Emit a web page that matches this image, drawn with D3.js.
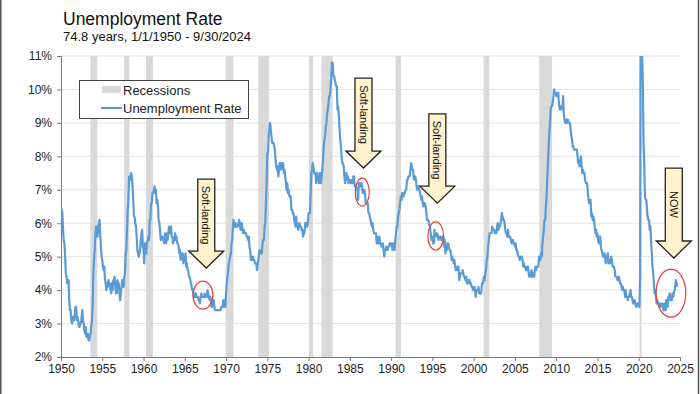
<!DOCTYPE html>
<html>
<head>
<meta charset="utf-8">
<script src="https://cdnjs.cloudflare.com/ajax/libs/d3/7.8.5/d3.min.js"></script>
<style>
  body { margin: 0; background: #fff; }
  svg { display: block; font-family: "Liberation Sans", Arial, sans-serif; }
</style>
</head>
<body>
<script>
// monthly US unemployment rate (%), one row per year starting 1950
var firstYear = 1950;
var monthlyRates = [
  [6.5,6.4,6.3,5.8,5.5,5.4,5.0,4.5,4.4,4.2,4.2,4.3],
  [3.7,3.4,3.4,3.1,3.0,3.2,3.1,3.1,3.3,3.5,3.5,3.1],
  [3.2,3.1,2.9,2.9,3.0,3.0,3.2,3.4,3.1,3.0,2.8,2.7],
  [2.9,2.6,2.6,2.7,2.5,2.5,2.6,2.7,2.9,3.1,3.5,4.5],
  [4.9,5.2,5.7,5.9,5.9,5.6,5.8,6.0,6.1,5.7,5.3,5.0],
  [4.9,4.7,4.6,4.7,4.3,4.2,4.0,4.2,4.1,4.3,4.2,4.2],
  [4.0,3.9,4.2,4.0,4.3,4.3,4.4,4.1,3.9,3.9,4.3,4.2],
  [4.2,3.9,3.7,3.9,4.1,4.3,4.2,4.1,4.4,4.5,5.1,5.2],
  [5.8,6.4,6.7,7.4,7.4,7.3,7.5,7.4,7.1,6.7,6.2,6.2],
  [6.0,5.9,5.6,5.2,5.1,5.0,5.1,5.2,5.5,5.7,5.8,5.3],
  [5.2,4.8,5.4,5.2,5.1,5.4,5.5,5.6,5.5,6.1,6.1,6.6],
  [6.6,6.9,6.9,7.0,7.1,6.9,7.0,6.6,6.7,6.5,6.1,6.0],
  [5.8,5.5,5.6,5.6,5.5,5.5,5.4,5.7,5.6,5.4,5.7,5.5],
  [5.7,5.9,5.7,5.7,5.9,5.6,5.6,5.4,5.5,5.5,5.7,5.5],
  [5.6,5.4,5.4,5.3,5.1,5.2,4.9,5.0,5.1,5.1,4.8,5.0],
  [4.9,5.1,4.7,4.8,4.6,4.6,4.4,4.4,4.3,4.2,4.1,4.0],
  [4.0,3.8,3.8,3.8,3.9,3.8,3.8,3.8,3.7,3.7,3.6,3.8],
  [3.9,3.8,3.8,3.8,3.8,3.9,3.8,3.8,3.8,4.0,3.9,3.8],
  [3.7,3.8,3.7,3.5,3.5,3.7,3.7,3.5,3.4,3.4,3.4,3.4],
  [3.4,3.4,3.4,3.4,3.4,3.5,3.5,3.5,3.7,3.7,3.5,3.5],
  [3.9,4.2,4.4,4.6,4.8,4.9,5.0,5.1,5.4,5.5,5.9,6.1],
  [5.9,5.9,6.0,5.9,5.9,5.9,6.0,6.1,6.0,5.8,6.0,6.0],
  [5.8,5.7,5.8,5.7,5.7,5.7,5.6,5.6,5.5,5.6,5.3,5.2],
  [4.9,5.0,4.9,5.0,4.9,4.9,4.8,4.8,4.8,4.6,4.8,4.9],
  [5.1,5.2,5.1,5.1,5.1,5.4,5.5,5.5,5.9,6.0,6.6,7.2],
  [8.1,8.1,8.6,8.8,9.0,8.8,8.6,8.4,8.4,8.4,8.3,8.2],
  [7.9,7.7,7.6,7.7,7.4,7.6,7.8,7.8,7.6,7.7,7.8,7.8],
  [7.5,7.6,7.4,7.2,7.0,7.2,6.9,7.0,6.8,6.8,6.8,6.4],
  [6.4,6.3,6.3,6.1,6.0,5.9,6.2,5.9,6.0,5.8,5.9,6.0],
  [5.9,5.9,5.8,5.8,5.6,5.7,5.7,6.0,5.9,6.0,5.9,6.0],
  [6.3,6.3,6.3,6.9,7.5,7.6,7.8,7.7,7.5,7.5,7.5,7.2],
  [7.5,7.4,7.4,7.2,7.5,7.5,7.2,7.4,7.6,7.9,8.3,8.5],
  [8.6,8.9,9.0,9.3,9.4,9.6,9.8,9.8,10.1,10.4,10.8,10.8],
  [10.4,10.4,10.3,10.2,10.1,10.1,9.4,9.5,9.2,8.8,8.5,8.3],
  [8.0,7.8,7.8,7.7,7.4,7.2,7.5,7.5,7.3,7.4,7.2,7.3],
  [7.3,7.2,7.2,7.3,7.2,7.4,7.4,7.1,7.1,7.1,7.0,7.0],
  [6.7,7.2,7.2,7.1,7.2,7.2,7.0,6.9,7.0,7.0,6.9,6.6],
  [6.6,6.6,6.6,6.3,6.3,6.2,6.1,6.0,5.9,6.0,5.8,5.7],
  [5.7,5.7,5.7,5.4,5.6,5.4,5.4,5.6,5.4,5.4,5.3,5.3],
  [5.4,5.2,5.0,5.2,5.2,5.3,5.2,5.2,5.3,5.3,5.4,5.4],
  [5.4,5.3,5.2,5.4,5.4,5.2,5.5,5.7,5.9,5.9,6.2,6.3],
  [6.4,6.6,6.8,6.7,6.9,6.9,6.8,6.9,6.9,7.0,7.0,7.3],
  [7.3,7.4,7.4,7.4,7.6,7.8,7.7,7.6,7.6,7.3,7.4,7.4],
  [7.3,7.1,7.0,7.1,7.1,7.0,6.9,6.8,6.7,6.8,6.6,6.5],
  [6.6,6.6,6.5,6.4,6.1,6.1,6.1,6.0,5.9,5.8,5.6,5.5],
  [5.6,5.4,5.4,5.8,5.6,5.6,5.7,5.7,5.6,5.5,5.6,5.6],
  [5.6,5.5,5.5,5.6,5.6,5.3,5.5,5.1,5.2,5.2,5.4,5.4],
  [5.3,5.2,5.2,5.1,4.9,5.0,4.9,4.8,4.9,4.7,4.6,4.7],
  [4.6,4.6,4.7,4.3,4.4,4.5,4.5,4.5,4.6,4.5,4.4,4.4],
  [4.3,4.4,4.2,4.3,4.2,4.3,4.3,4.2,4.2,4.1,4.1,4.0],
  [4.0,4.1,4.0,3.8,4.0,4.0,4.0,4.1,3.9,3.9,3.9,3.9],
  [4.2,4.2,4.3,4.4,4.3,4.5,4.6,4.9,5.0,5.3,5.5,5.7],
  [5.7,5.7,5.7,5.9,5.8,5.8,5.8,5.7,5.7,5.7,5.9,6.0],
  [5.8,5.9,5.9,6.0,6.1,6.3,6.2,6.1,6.1,6.0,5.8,5.7],
  [5.7,5.6,5.8,5.6,5.6,5.6,5.5,5.4,5.4,5.5,5.4,5.4],
  [5.3,5.4,5.2,5.2,5.1,5.0,5.0,4.9,5.0,5.0,5.0,4.9],
  [4.7,4.8,4.7,4.7,4.6,4.6,4.7,4.7,4.5,4.4,4.5,4.4],
  [4.6,4.5,4.4,4.5,4.4,4.6,4.7,4.6,4.7,4.7,4.7,5.0],
  [5.0,4.9,5.1,5.0,5.4,5.6,5.8,6.1,6.1,6.5,6.8,7.3],
  [7.8,8.3,8.7,9.0,9.4,9.5,9.5,9.6,9.8,10.0,9.9,9.9],
  [9.8,9.8,9.9,9.9,9.6,9.4,9.4,9.5,9.5,9.4,9.8,9.3],
  [9.1,9.0,9.0,9.1,9.0,9.1,9.0,9.0,9.0,8.8,8.6,8.5],
  [8.3,8.3,8.2,8.2,8.2,8.2,8.2,8.0,7.8,7.8,7.7,7.9],
  [8.0,7.7,7.5,7.6,7.5,7.5,7.3,7.2,7.2,7.2,6.9,6.7],
  [6.6,6.7,6.7,6.2,6.3,6.1,6.2,6.1,5.9,5.7,5.8,5.6],
  [5.7,5.5,5.4,5.4,5.6,5.3,5.2,5.1,5.0,5.0,5.1,5.0],
  [4.8,4.9,5.0,5.1,4.8,4.9,4.8,4.9,5.0,4.9,4.7,4.7],
  [4.7,4.6,4.4,4.4,4.4,4.3,4.3,4.4,4.3,4.2,4.2,4.1],
  [4.0,4.1,4.0,4.0,3.8,4.0,3.8,3.8,3.7,3.8,3.8,3.9],
  [4.0,3.8,3.8,3.7,3.6,3.6,3.7,3.6,3.5,3.6,3.6,3.6],
  [3.5,3.5,4.4,14.8,13.2,11.0,10.2,8.4,7.8,6.8,6.7,6.7],
  [6.4,6.2,6.1,6.1,5.8,5.9,5.4,5.1,4.7,4.5,4.2,3.9],
  [4.0,3.8,3.6,3.7,3.6,3.6,3.5,3.6,3.5,3.6,3.6,3.5],
  [3.4,3.6,3.5,3.4,3.7,3.6,3.5,3.8,3.8,3.9,3.7,3.7],
  [3.7,3.9,3.8,3.9,4.0,4.1,4.3,4.2,4.1]
];

// NBER recessions, decimal years
var recessionStart = [1953.55, 1957.65, 1960.3, 1969.95, 1973.9, 1980.05, 1981.55, 1990.55, 2001.2, 2007.95, 2020.1];
var recessionEnd   = [1954.4, 1958.3, 1961.15, 1970.9, 1975.2, 1980.55, 1982.9, 1991.2, 2001.9, 2009.5, 2020.35];

var yTicks = [2, 3, 4, 5, 6, 7, 8, 9, 10, 11];
var xTicks = d3.range(1950, 2026, 5);

// call-outs: arrow label, where the arrow points (year), its top and tip (%)
var arrowLabels = ["Soft-landing", "Soft-landing", "Soft-landing", "NOW"];
var arrowYear   = [1967.6, 1986.65, 1995.6, 2024.25];
var arrowTop    = [7.32, 10.34, 9.27, 7.65];
var arrowTip    = [4.66, 7.65, 6.6, 4.96];
// red circles: centre year, centre %, half-width in years, half-height in %
var ringYear = [1967.2, 1986.5, 1995.4, 2023.9];
var ringRate = [3.85, 6.93, 5.62, 3.91];
var ringDx   = [1.2, 0.85, 0.95, 1.8];
var ringDy   = [0.42, 0.42, 0.42, 0.72];

window.onload = function() {
    var w = 700, h = 394;
    var margin = {left: 61, right: 20, top: 56, bottom: 37};

    var svg = d3.select("body").append("svg")
        .attr("width", w)
        .attr("height", h);

    //flatten the rows into one monthly series
    var series = [];
    monthlyRates.forEach(function(row, i) {
        row.forEach(function(v, m) {
            series.push({t: firstYear + i + m / 12, v: v});
        });
    });

    var x = d3.scaleLinear().domain([1950, 2025]).range([margin.left, w - margin.right]);
    var y = d3.scaleLinear().domain([2, 11]).range([h - margin.bottom, margin.top]);

    //frame edges of the slide
    svg.append("line").attr("x1", 0.75).attr("x2", 0.75).attr("y1", 0).attr("y2", h)
        .style("stroke", "#555").style("stroke-width", 1.5);
    svg.append("line").attr("x1", 698.5).attr("x2", 698.5).attr("y1", 0).attr("y2", h)
        .style("stroke", "#555").style("stroke-width", 1.5);

    //titles
    svg.append("text").attr("x", 63).attr("y", 25)
        .style("font-size", "17.5px").style("fill", "#111")
        .text("Unemployment Rate");
    svg.append("text").attr("x", 63).attr("y", 41)
        .style("font-size", "13px").style("fill", "#111")
        .text("74.8 years, 1/1/1950 - 9/30/2024");

    //gridlines
    svg.append("g").selectAll("line")
        .data(yTicks.slice(1))
        .enter().append("line")
        .attr("x1", margin.left).attr("x2", w - margin.right)
        .attr("y1", function(d) { return y(d); })
        .attr("y2", function(d) { return y(d); })
        .style("stroke", "#e3e3e3").style("stroke-width", 1);

    //recession bars
    svg.append("g").selectAll("rect")
        .data(recessionStart)
        .enter().append("rect")
        .attr("x", function(d) { return x(d); })
        .attr("width", function(d, i) { return x(recessionEnd[i]) - x(d); })
        .attr("y", y(11))
        .attr("height", y(2) - y(11))
        .style("fill", "#d9d9d9");

    //axes
    var yAxis = svg.append("g")
        .attr("transform", "translate(" + margin.left + ",0)")
        .call(d3.axisLeft(y).tickValues(yTicks).tickSize(4).tickPadding(5)
            .tickFormat(function(d) { return d + "%"; }));
    var xAxis = svg.append("g")
        .attr("transform", "translate(0," + y(2) + ")")
        .call(d3.axisBottom(x).tickValues(xTicks).tickSize(4).tickPadding(3)
            .tickFormat(d3.format("d")));
    [xAxis, yAxis].forEach(function(a) {
        a.select(".domain").style("stroke", "#777");
        a.selectAll(".tick line").style("stroke", "#777");
        a.selectAll("text").style("font-size", "12px").style("fill", "#222")
            .style("font-family", "Liberation Sans, Arial, sans-serif");
    });

    //the rate line, clipped to the plot
    svg.append("clipPath").attr("id", "plot")
        .append("rect")
        .attr("x", margin.left).attr("y", y(11))
        .attr("width", x(2025) - margin.left).attr("height", y(2) - y(11));

    var line = d3.line()
        .x(function(d) { return x(d.t); })
        .y(function(d) { return y(d.v); });

    svg.append("path")
        .datum(series)
        .attr("clip-path", "url(#plot)")
        .attr("d", line)
        .style("fill", "none")
        .style("stroke", "#5b9bd5")
        .style("stroke-width", 2.2)
        .style("stroke-linejoin", "round");

    //legend
    var legend = svg.append("g");
    legend.append("rect")
        .attr("x", 79.5).attr("y", 80.5).attr("width", 169).attr("height", 38)
        .style("fill", "#fff").style("stroke", "#444").style("stroke-width", 1);
    legend.append("rect")
        .attr("x", 102).attr("y", 86).attr("width", 19).attr("height", 7)
        .style("fill", "#d9d9d9");
    legend.append("line")
        .attr("x1", 101).attr("x2", 122).attr("y1", 108).attr("y2", 108)
        .style("stroke", "#5b9bd5").style("stroke-width", 2.2);
    legend.append("text").attr("x", 123).attr("y", 94.5)
        .style("font-size", "13px").style("fill", "#222").text("Recessions");
    legend.append("text").attr("x", 123).attr("y", 112.5)
        .style("font-size", "13px").style("fill", "#222").text("Unemployment Rate");

    //arrows
    var shaftHalf = 8.5, headHalf = 17.5, headLen = 17;
    var arrows = svg.append("g").selectAll("g")
        .data(arrowLabels)
        .enter().append("g");

    arrows.append("path")
        .attr("d", function(d, i) {
            var cx = x(arrowYear[i]), top = y(arrowTop[i]), tip = y(arrowTip[i]);
            var base = tip - headLen;
            return "M" + (cx - shaftHalf) + "," + top +
                "L" + (cx + shaftHalf) + "," + top +
                "L" + (cx + shaftHalf) + "," + base +
                "L" + (cx + headHalf) + "," + base +
                "L" + cx + "," + tip +
                "L" + (cx - headHalf) + "," + base +
                "L" + (cx - shaftHalf) + "," + base + "Z";
        })
        .style("fill", "#fff2cc")
        .style("stroke", "#222")
        .style("stroke-width", 1.3)
        .style("stroke-linejoin", "miter");

    arrows.append("text")
        .attr("transform", function(d, i) {
            var cx = x(arrowYear[i]);
            var mid = (y(arrowTop[i]) + y(arrowTip[i]) - headLen) / 2;
            return "translate(" + cx + "," + mid + ") rotate(90)";
        })
        .attr("text-anchor", "middle")
        .attr("dy", "0.35em")
        .style("font-size", "11px")
        .style("fill", "#111")
        .text(function(d) { return d; });

    //red circles
    svg.append("g").selectAll("ellipse")
        .data(ringYear)
        .enter().append("ellipse")
        .attr("cx", function(d) { return x(d); })
        .attr("cy", function(d, i) { return y(ringRate[i]); })
        .attr("rx", function(d, i) { return x(d + ringDx[i]) - x(d); })
        .attr("ry", function(d, i) { return y(ringRate[i] - ringDy[i]) - y(ringRate[i]); })
        .style("fill", "none")
        .style("stroke", "#e8403f")
        .style("stroke-width", 1.2);
};
</script>
</body>
</html>
